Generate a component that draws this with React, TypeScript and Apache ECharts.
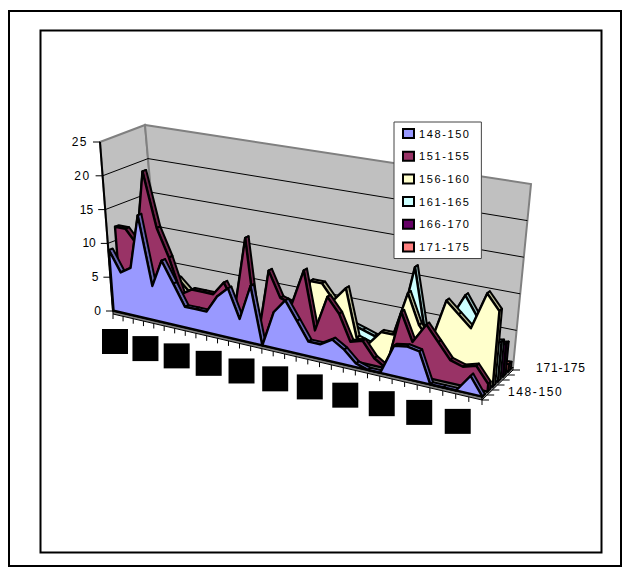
import React, { useEffect, useRef } from "react";
import * as echarts from "echarts";

const seriesNames = ["148-150", "151-155", "156-160", "161-165", "166-170", "171-175"];
const seriesColors = ["#9999FF", "#993366", "#FFFFCC", "#CCFFFF", "#660066", "#FF8080"];
const seriesTopColors = ["#6666B0", "#6E2449", "#B8B893", "#93B8B8", "#480048", "#B85C5C"];

const s148 = [9, 6, 7, 15, 5, 9, 6, 3, 3, 3, 5.5, 7, 3, 8, 0, 5, 7, 4.5, 2, 2, 3, 2, 0.5, 0, 0, 4, 4.3, 4, 0, 0, 0, 2.3, 0];
const s151 = [12, 12, 10, 21, 13, 9, 4, 5, 5, 5, 7, 4, 14, 0, 10, 6.5, 6, 11, 3, 8, 6, 2.5, 3, 1, 0, 8, 4.3, 7, 5, 3, 2.5, 3, 1];
const s156 = [0, 0, 0, 2, 6, 5.5, 4, 2, 1, 0, 1, 0, 0, 0, 0, 0, 0, 9, 9, 7, 9, 2.5, 2, 4, 4, 10, 6, 4, 10, 8.5, 7, 12, 10];
const s161 = [0, 0, 0, 0, 0, 0, 0, 0, 0, 0, 0, 0, 0, 0, 0, 0, 0, 0, 0, 1, 3.5, 3, 2.5, 0, 4, 13, 5, 2, 7, 10.5, 8, 5, 5.3];
const s166 = [0, 0, 0, 0, 0, 0, 0, 0, 0, 0, 0, 0, 0, 0, 0, 0, 0, 0, 0, 0, 2, 1.5, 1, 0, 0, 2, 0, 0, 0, 0, 0, 4, 4.4];
const s171 = [0, 0, 0, 0, 0, 0, 0, 0, 0, 0, 0, 0, 0, 0, 0, 0, 0, 0, 0, 0, 0, 0, 0, 0, 0, 0, 0, 0, 0, 0, 0, 1, 1];
const allSeries = [s148, s151, s156, s161, s166, s171];
const valueTicks = [0, 5, 10, 15, 20, 25];

const FONT = "'Liberation Sans', Arial, sans-serif";
const N = s148.length - 1;
const K = 1.15;
const MAXV = 25;
const warp = (t: number) => t / (t + K * (1 - t));
const lerp = (a: number[], b: number[], t: number) => [a[0] + (b[0] - a[0]) * t, a[1] + (b[1] - a[1]) * t];
// projection cube: front/back, left/right, floor/top
const FL0 = [113, 311], FR0 = [482, 397], BL0 = [160, 293], BR0 = [513, 367];
const FL1 = [100, 142], FR1 = [498, 205], BL1 = [145, 125], BR1 = [531, 184];
function project(i: number, s: number, v: number) {
  const u = warp(i / N);
  const h = v / MAXV;
  const floor = lerp(lerp(FL0, FR0, u), lerp(BL0, BR0, u), s);
  const top = lerp(lerp(FL1, FR1, u), lerp(BL1, BR1, u), s);
  return lerp(floor, top, h);
}
const seriesFront = (k: number) => k / 6 + 0.012;
const seriesBack = (k: number) => k / 6 + 0.095;

function renderSeries(k: number) {
  return (params: any, api: any) => {
    if (params.dataIndex !== 0) return null;
    const vals = allSeries[k];
    const c = (p: number[]) => api.coord(p);
    const f = (i: number, v: number) => c(project(i, seriesFront(k), v));
    const b = (i: number, v: number) => c(project(i, seriesBack(k), v));
    const children: any[] = [];
    const edge = { stroke: "#000", lineWidth: 2, lineJoin: "round" };
    for (let i = 0; i < N; i++) {
      children.push({
        type: "polygon",
        shape: { points: [f(i, vals[i]), f(i + 1, vals[i + 1]), b(i + 1, vals[i + 1]), b(i, vals[i])] },
        style: { fill: seriesTopColors[k], ...edge },
      });
    }
    children.push({
      type: "polygon",
      shape: { points: [f(N, vals[N]), b(N, vals[N]), b(N, 0), f(N, 0)] },
      style: { fill: seriesTopColors[k], ...edge },
    });
    const front = vals.map((v, i) => f(i, v));
    children.push({
      type: "polygon",
      shape: { points: [...front, f(N, 0), f(0, 0)] },
      style: { fill: seriesColors[k], stroke: "#000", lineWidth: 2.4, lineJoin: "round" },
    });
    return { type: "group", children };
  };
}

function renderFrame(_: any, api: any) {
  const c = (p: number[]) => api.coord(p);
  const children: any[] = [];
  const wall = { fill: "#C0C0C0", stroke: "#808080", lineWidth: 2 };
  children.push({ type: "polygon", shape: { points: [FL0, BL0, BL1, FL1].map(c) }, style: wall });
  children.push({ type: "polygon", shape: { points: [BL0, BR0, BR1, BL1].map(c) }, style: wall });
  children.push({ type: "polygon", shape: { points: [FL0, FR0, BR0, BL0].map(c) }, style: { fill: "#808080", stroke: "#808080", lineWidth: 1 } });
  // floor slab edge
  const drop = (p: number[]) => [p[0], p[1] + 3];
  children.push({ type: "polygon", shape: { points: [FL0, FR0, drop(FR0), drop(FL0)].map(c) }, style: { fill: "#808080", stroke: "#000", lineWidth: 1 } });
  children.push({ type: "polygon", shape: { points: [FR0, BR0, drop(BR0), drop(FR0)].map(c) }, style: { fill: "#808080", stroke: "#000", lineWidth: 1 } });
  const line = (a: number[], b: number[], w = 1, col = "#000") => ({
    type: "line",
    shape: { x1: c(a)[0], y1: c(a)[1], x2: c(b)[0], y2: c(b)[1] },
    style: { stroke: col, lineWidth: w },
  });
  valueTicks.forEach((v) => {
    if (v > 0 && v < MAXV) {
      children.push(line(project(0, 0, v), project(0, 1, v)));
      children.push(line(project(0, 1, v), project(N, 1, v)));
    }
    const p = project(0, 0, v);
    children.push(line(p, [p[0] - 7, p[1]]));
    children.push({
      type: "text",
      style: {
        text: String(v),
        x: c(p)[0] - 12,
        y: c(p)[1],
        textAlign: "right",
        textVerticalAlign: "middle",
        fontFamily: FONT,
        fontSize: 12,
        fill: "#000",
      },
    });
  });
  children.push(line(FL0, FL1, 2));
  // category ticks and label boxes
  for (let i = 0; i <= N; i++) {
    const p = drop(project(i, 0, 0));
    children.push(line(p, [p[0], p[1] + 5]));
    if (i % 3 === 0) {
      const q = c(project(i, 0, 0));
      children.push({ type: "rect", shape: { x: q[0] - 11, y: q[1] + 18, width: 26, height: 25 }, style: { fill: "#000" } });
    }
  }
  // series ticks and labels
  for (let k = 0; k <= 6; k++) {
    const p = project(N, k / 6, 0);
    children.push(line(drop(p), [p[0] + 7, p[1] + 3]));
  }
  [0, 5].forEach((k) => {
    const p = c(project(N, k === 0 ? 0 : 1, 0));
    children.push({
      type: "text",
      style: {
        text: seriesNames[k],
        x: p[0] + (k === 0 ? 26 : 23),
        y: p[1] + (k === 0 ? -5 : 1),
        textAlign: "left",
        textVerticalAlign: "middle",
        fontFamily: FONT,
        fontSize: 12,
        fill: "#000",
      },
    });
  });
  return { type: "group", children };
}

export default function App() {
  const ref = useRef<HTMLDivElement>(null);
  useEffect(() => {
    document.body.style.margin = "0";
    const chart = echarts.init(ref.current!, undefined, { renderer: "svg", width: 629, height: 568 });
    chart.setOption({
      animation: false,
      backgroundColor: "#fff",
      grid: { left: 0, top: 0, right: 0, bottom: 0 },
      xAxis: { type: "value", min: 0, max: 629, show: false },
      yAxis: { type: "value", min: 0, max: 568, inverse: true, show: false },
      graphic: [
        { type: "rect", z: 0, shape: { x: 9, y: 11, width: 612, height: 555 }, style: { fill: "none", stroke: "#000", lineWidth: 2 } },
        { type: "rect", z: 0, shape: { x: 40.5, y: 30.5, width: 561, height: 522 }, style: { fill: "none", stroke: "#000", lineWidth: 2 } },
      ],
      legend: {
        show: true,
        orient: "vertical",
        left: 394,
        top: 122,
        icon: "rect",
        itemWidth: 11,
        itemHeight: 9,
        itemGap: 11.7,
        padding: [6, 22, 6, 8],
        backgroundColor: "#fff",
        borderColor: "#444",
        borderWidth: 1,
        data: seriesNames,
        selectedMode: false,
        itemStyle: { borderColor: "#000", borderWidth: 2 },
        textStyle: { fontFamily: FONT, fontSize: 11, color: "#000", padding: [0, 0, 0, 0] },
      },
      series: [
        { type: "custom", name: "frame", z: 1, coordinateSystem: "cartesian2d", silent: true, data: [[0, 0]], renderItem: renderFrame },
        ...seriesNames.map((name, k) => ({
          type: "custom",
          name,
          z: 10 - k,
          coordinateSystem: "cartesian2d",
          silent: true,
          itemStyle: { color: seriesColors[k] },
          data: allSeries[k].map((v, i) => [i, v]),
          encode: { x: 0, y: 1 },
          clip: false,
          renderItem: renderSeries(k),
        })),
      ],
    });
    // the reference's labels are loosely tracked
    ref.current!.querySelectorAll("text").forEach((t) => {
      const s = t.textContent || "";
      if (seriesNames.includes(s)) {
        const inLegend = (t.getAttribute("style") || "").includes("11px");
        t.setAttribute("letter-spacing", inLegend ? "1.6" : s === "148-150" ? "1.6" : "0.8");
      } else if (s === "25" || s === "20") {
        t.setAttribute("letter-spacing", "1.5");
      }
    });
    return () => chart.dispose();
  }, []);
  return <div ref={ref} style={{ width: 629, height: 568 }} />;
}
